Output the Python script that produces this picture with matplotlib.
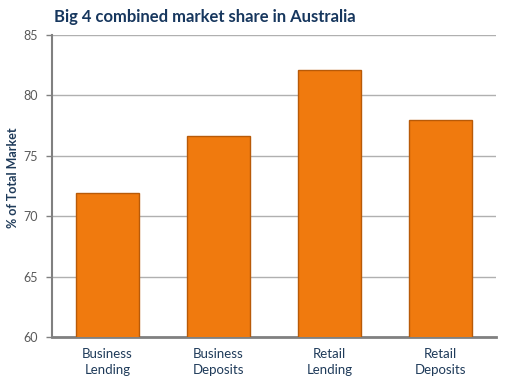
import matplotlib
matplotlib.use("Agg")
import matplotlib.pyplot as plt

categories = ["Business\nLending", "Business\nDeposits", "Retail\nLending", "Retail\nDeposits"]
values = [71.9, 76.6, 82.1, 78.0]
yticks = [60, 65, 70, 75, 80, 85]

plt.rcParams['font.family'] = ['Lato', 'DejaVu Sans']

fig = plt.figure(figsize=(5.06, 3.83), dpi=100)
ax = fig.add_axes([0.1028, 0.1201, 0.8772, 0.7885])

x = range(len(categories))
ax.bar(x, values, width=0.57, color='#F07A0E', edgecolor='#B85A08', linewidth=1.0, zorder=3)

ax.set_ylim(60, 85)
ax.set_xlim(-0.5, len(categories) - 0.5)
ax.set_yticks(yticks)
ax.set_yticklabels([str(t) for t in yticks], color='#595959', fontsize=9)
ax.set_xticks(list(x))
ax.set_xticklabels(categories, color='#1F3B5A', fontsize=9.5, linespacing=1.35)
ax.tick_params(axis='x', length=0, pad=8)
ax.tick_params(axis='y', length=4, width=1, color='#808080', direction='out', pad=6)

ax.grid(axis='y', color='#B0B0B0', linewidth=1, zorder=0)
ax.set_axisbelow(True)
for s in ['top', 'right']:
    ax.spines[s].set_visible(False)
ax.spines['left'].set_color('#808080')
ax.spines['left'].set_linewidth(1.5)
ax.spines['bottom'].set_color('#808080')
ax.spines['bottom'].set_linewidth(2)

fig.text(0.026, 0.535, '% of Total Market', fontsize=9, fontweight='bold', color='#1F3B5A',
         rotation=90, ha='center', va='center')
fig.text(0.107, 0.955, 'Big 4 combined market share in Australia', fontsize=12,
         fontweight='bold', color='#17375E', ha='left', va='center')

fig.savefig('out.png', dpi=100)
